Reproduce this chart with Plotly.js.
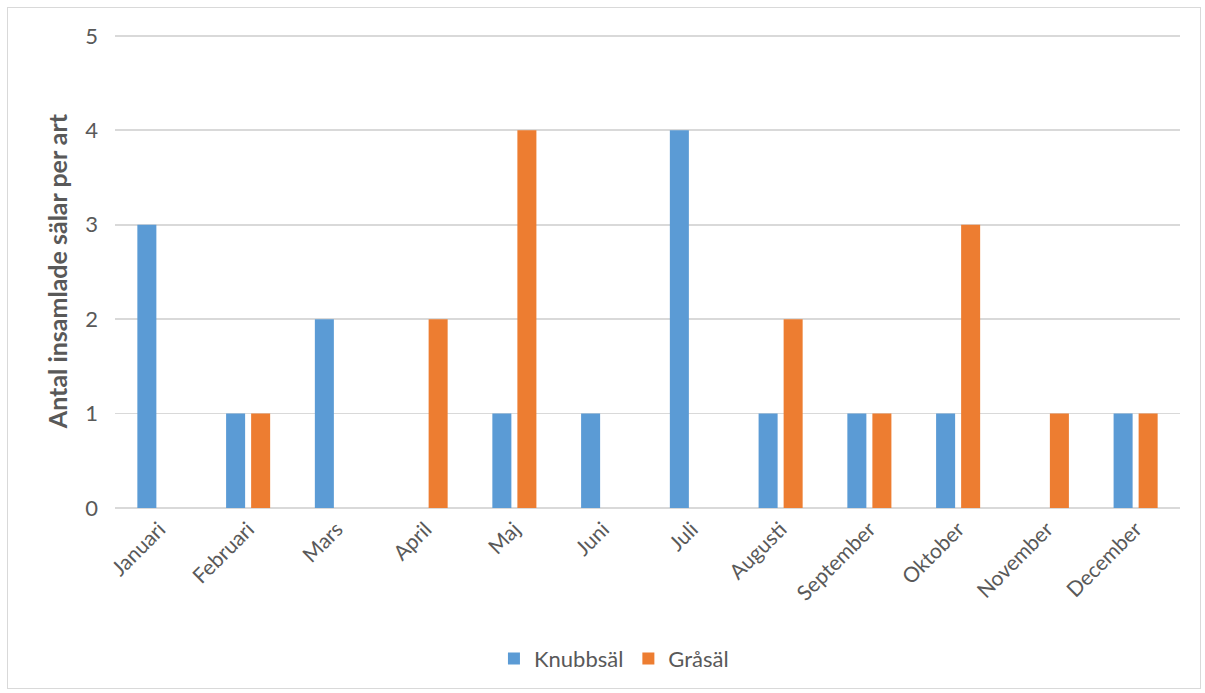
<!DOCTYPE html>
<html>
<head>
<meta charset="utf-8">
<script src="https://cdn.plot.ly/plotly-3.0.1.min.js"></script>
<style>
body{margin:0;padding:0;background:#fff;}
#wrap{position:relative;width:1205px;height:693px;}
#chart{position:absolute;left:0;top:0;width:1205px;height:693px;}
#frame{position:absolute;left:7px;top:7px;width:1192px;height:680px;border:1px solid #d9d9d9;pointer-events:none;}
</style>
</head>
<body>
<div id="wrap"><div id="chart"></div><div id="frame"></div></div>
<script>
const months = ["Januari","Februari","Mars","April","Maj","Juni","Juli","Augusti","September","Oktober","November","December"];
const knubbsal = [3,1,2,0,1,1,4,1,1,1,0,1];
const grasal = [0,1,0,2,4,0,0,2,1,3,1,1];
const fontFam = "Lato, 'Open Sans', sans-serif";
const traces = [
  {type:"bar", name:"Knubbsäl", x:months, y:knubbsal, marker:{color:"#5B9BD5", line:{width:0}}},
  {type:"bar", name:"Gråsäl", x:months, y:grasal, marker:{color:"#ED7D31", line:{width:0}}}
];
const layout = {
  width:1205, height:693,
  margin:{l:115, r:25, t:34, b:185, autoexpand:false},
  paper_bgcolor:"#fff", plot_bgcolor:"#fff",
  barmode:"group", bargap:0.436, bargroupgap:0.24,
  font:{family:fontFam, color:"#595959", size:20},
  xaxis:{type:"category", automargin:false, tickangle:-45, tickfont:{size:21, color:"#595959"}, showgrid:false,
         showline:false, zeroline:false, ticks:"", ticklabelstandoff:4},
  yaxis:{range:[0,5.02], automargin:false, tickvals:[0,1,2,3,4,5], tickfont:{size:22, color:"#595959"}, gridcolor:"#D9D9D9", gridwidth:1.8,
         zeroline:true, zerolinecolor:"#D9D9D9", zerolinewidth:1.8, showline:false, ticks:"", ticklabelstandoff:16,
         title:{text:"Antal insamlade sälar per art", font:{size:25, color:"#595959", family:fontFam, weight:"bold"}, standoff:10}},
  legend:{orientation:"h", x:0.4685, xanchor:"center", y:-0.318, yanchor:"middle", font:{size:22, color:"#595959"}, traceorder:"normal"},
  showlegend:true
};
Plotly.newPlot("chart", traces, layout, {displayModeBar:false, staticPlot:true});
</script>
</body>
</html>
